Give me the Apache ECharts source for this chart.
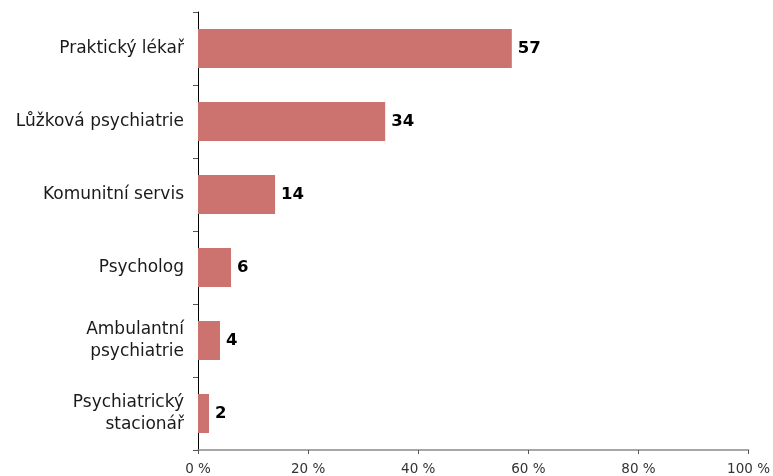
<!DOCTYPE html>
<html>
<head>
<meta charset="utf-8">
<script src="https://cdn.jsdelivr.net/npm/echarts@6/dist/echarts.min.js"></script>
<style>
  html, body { margin: 0; padding: 0; background: #fff; }
  #chart { width: 773px; height: 476px; }
</style>
</head>
<body>
<div id="chart"></div>
<script>
// Care providers, share of respondents (%)
const categories = [
  'Praktický lékař',
  'Lůžková psychiatrie',
  'Komunitní servis',
  'Psycholog',
  'Ambulantní\npsychiatrie',
  'Psychiatrický\nstacionář'
];
const values = [57, 34, 14, 6, 4, 2];
const xTicks = [0, 20, 40, 60, 80, 100];

const chart = echarts.init(document.getElementById('chart'), null, { renderer: 'canvas' });

chart.setOption({
  animation: false,
  backgroundColor: '#ffffff',
  grid: { left: 198, top: 12, right: 21, bottom: 26, containLabel: false },
  xAxis: {
    type: 'value',
    min: xTicks[0],
    max: xTicks[xTicks.length - 1],
    interval: xTicks[1] - xTicks[0],
    axisLine: { show: true, lineStyle: { color: '#8a8a8a', width: 1.5 } },
    axisTick: { show: true, inside: false, length: 4, lineStyle: { color: '#555' } },
    splitLine: { show: false },
    axisLabel: {
      margin: 12,
      color: '#333',
      fontFamily: 'DejaVu Sans',
      fontSize: 13.5,
      formatter: v => v + ' %'
    }
  },
  yAxis: {
    type: 'category',
    data: categories,
    inverse: true,
    axisLine: { show: true, lineStyle: { color: '#000', width: 1 } },
    axisTick: { show: true, length: 5, lineStyle: { color: '#555' } },
    axisLabel: {
      margin: 14,
      color: '#1a1a1a',
      fontFamily: 'DejaVu Sans',
      fontSize: 17,
      lineHeight: 22,
      align: 'right'
    }
  },
  series: [{
    type: 'bar',
    data: values,
    barWidth: 39,
    itemStyle: { color: '#cd736f' },
    label: {
      show: true,
      position: 'right',
      distance: 6,
      color: '#000',
      fontFamily: 'DejaVu Sans',
      fontWeight: 'bold',
      fontSize: 16.5
    }
  }]
});
</script>
</body>
</html>
